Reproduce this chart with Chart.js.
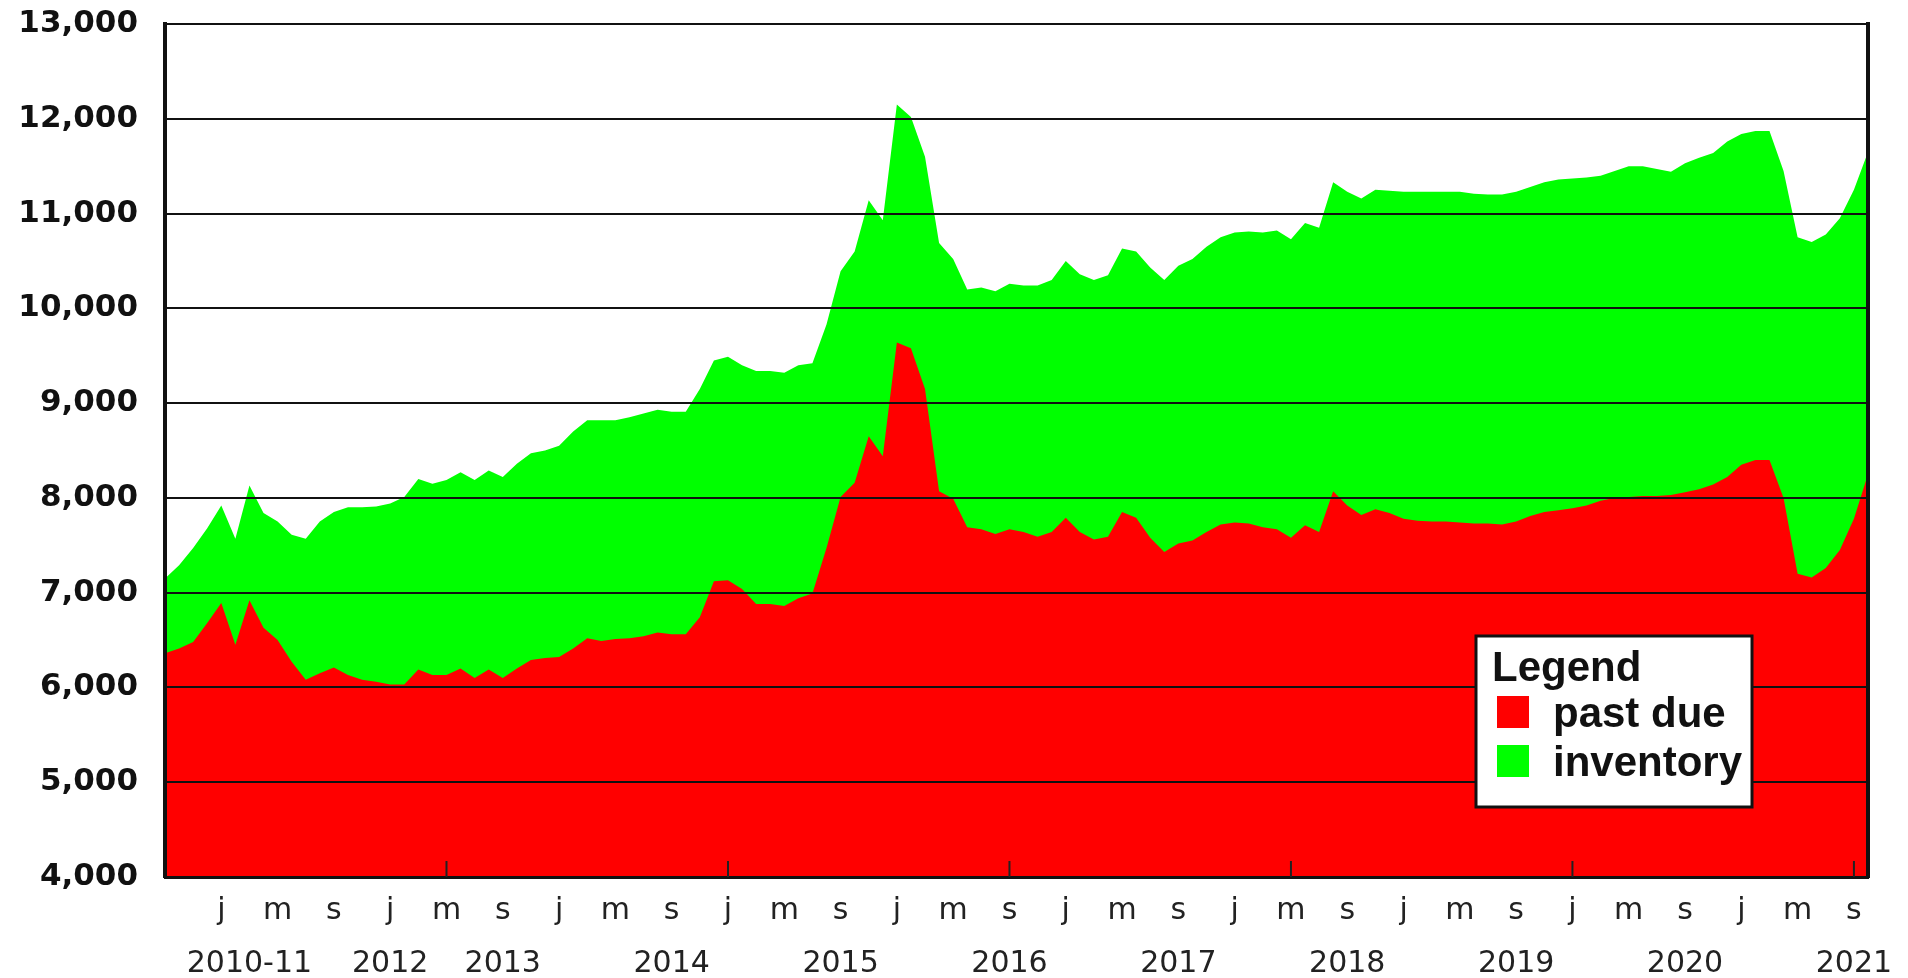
<!DOCTYPE html>
<html>
<head>
<meta charset="utf-8">
<title>Past due and inventory</title>
<script src="https://cdn.jsdelivr.net/npm/chart.js@4.4.1/dist/chart.umd.min.js"></script>
<style>
    html, body { margin: 0; padding: 0; background: #fff; }
    #wrap { position: relative; width: 1908px; height: 978px; }
</style>
</head>
<body>
<div id="wrap"><canvas id="dueChart"></canvas></div>
<script>
// monthly values, first point is September of the first year
const pastDue = [
    6360, 6410, 6480, 6680, 6890, 6450, 6920, 6630, 6500, 6270,
    6080, 6150, 6210, 6130, 6080, 6060, 6030, 6030, 6190, 6130,
    6130, 6200, 6100, 6190, 6100, 6200, 6290, 6310, 6320, 6410,
    6520, 6490, 6510, 6520, 6540, 6580, 6560, 6560, 6740, 7120,
    7130, 7040, 6880, 6880, 6860, 6940, 6990, 7470, 8010, 8160,
    8650, 8440, 9640, 9580, 9150, 8070, 7990, 7690, 7670, 7620,
    7670, 7640, 7590, 7640, 7790, 7640, 7560, 7590, 7850, 7790,
    7580, 7430, 7520, 7550, 7640, 7720, 7740, 7730, 7690, 7670,
    7580, 7710, 7640, 8070, 7920, 7820, 7880, 7840, 7780, 7760,
    7750, 7750, 7740, 7730, 7730, 7720, 7750, 7810, 7850, 7870,
    7890, 7920, 7970, 8000, 8010, 8020, 8020, 8030, 8060, 8090,
    8140, 8220, 8350, 8400, 8400, 8000, 7200, 7160, 7260, 7450,
    7780, 8250
];

const inventory = [
    7150, 7290, 7470, 7680, 7920, 7570, 8130, 7840, 7750, 7610,
    7570, 7750, 7850, 7900, 7900, 7910, 7940, 8010, 8200, 8150,
    8190, 8270, 8190, 8290, 8220, 8360, 8470, 8500, 8550, 8700,
    8820, 8820, 8820, 8850, 8890, 8930, 8910, 8910, 9150, 9450,
    9490, 9400, 9340, 9340, 9320, 9400, 9420, 9830, 10390, 10600,
    11140, 10930, 12150, 12020, 11600, 10690, 10520, 10200, 10220, 10180,
    10260, 10240, 10240, 10300, 10500, 10360, 10300, 10350, 10630, 10600,
    10430, 10300, 10450, 10520, 10650, 10750, 10800, 10810, 10800, 10820,
    10730, 10900, 10850, 11330, 11230, 11160, 11250, 11240, 11230, 11230,
    11230, 11230, 11230, 11210, 11200, 11200, 11230, 11280, 11330, 11360,
    11370, 11380, 11400, 11450, 11500, 11500, 11470, 11440, 11530, 11590,
    11640, 11760, 11840, 11870, 11870, 11450, 10750, 10700, 10780, 10950,
    11250, 11650
];

const months = pastDue.map((v, i) => i);   // category index per month
const firstMonth = 8;                        // september
const monthLetters = ["j", "", "", "", "m", "", "", "", "s", "", "", ""];
const yearLabels = ["2010-11", "2012", "2013", "2014", "2015", "2016", "2017", "2018", "2019", "2020", "2021"];
const yearAt = [6, 16, 24, 36, 48, 60, 72, 84, 96, 108, 120];
const innerTickAt = [20, 40, 60, 80, 100, 120];
const seriesNames = ["past due", "inventory"];
const seriesColors = ["#ff0000", "#00ff00"];

// small tick marks standing up from the bottom axis
const innerTicks = {
    id: "innerTicks",
    afterDraw(chart) {
        const { ctx, chartArea, scales } = chart;
        ctx.save();
        ctx.strokeStyle = "#222";
        ctx.lineWidth = 2;
        innerTickAt.forEach(i => {
            const x = scales.x.getPixelForValue(i);
            ctx.beginPath();
            ctx.moveTo(x, chartArea.bottom);
            ctx.lineTo(x, chartArea.bottom - 16);
            ctx.stroke();
        });
        ctx.restore();
    }
};

// boxed legend drawn over the plot, above the grid lines
const boxLegend = {
    id: "boxLegend",
    afterDraw(chart) {
        const { ctx, chartArea } = chart;
        const w = 276, h = 171;
        const left = chartArea.right - 116 - w;
        const top = chartArea.bottom - 70 - h;
        ctx.save();
        ctx.fillStyle = "#fff";
        ctx.fillRect(left, top, w, h);
        ctx.strokeStyle = "#111";
        ctx.lineWidth = 3;
        ctx.strokeRect(left, top, w, h);
        ctx.fillStyle = "#111";
        ctx.font = "bold 42px 'Liberation Sans', Arial, sans-serif";
        ctx.textBaseline = "alphabetic";
        ctx.fillText("Legend", left + 16, top + 45);
        chart.data.datasets.forEach((ds, i) => {
            const base = top + 91 + i * 49;
            ctx.fillStyle = ds.backgroundColor;
            ctx.fillRect(left + 21, base - 31, 32, 32);
            ctx.fillStyle = "#111";
            ctx.fillText(ds.label, left + 77, base);
        });
        ctx.restore();
    }
};

const ctx = document.getElementById("dueChart").getContext("2d");

new Chart(ctx, {
    type: "line",
    data: {
        labels: months,
        datasets: [
            {
                label: seriesNames[0],
                data: pastDue,
                backgroundColor: seriesColors[0],
                borderColor: seriesColors[0],
                borderWidth: 0,
                pointRadius: 0,
                tension: 0,
                fill: "start"
            },
            {
                label: seriesNames[1],
                data: inventory,
                backgroundColor: seriesColors[1],
                borderColor: seriesColors[1],
                borderWidth: 0,
                pointRadius: 0,
                tension: 0,
                fill: "start"
            }
        ]
    },
    options: {
        responsive: true,
        maintainAspectRatio: false,
        animation: false,
        layout: { padding: { top: 24, right: 40, left: 0, bottom: 0 } },
        plugins: {
            legend: { display: false },
            tooltip: { enabled: false }
        },
        scales: {
            x: {
                type: "category",
                z: 1,
                grid: { display: false, drawTicks: false },
                border: { display: true, color: "#111", width: 3, z: 1 },
                ticks: {
                    autoSkip: false,
                    maxRotation: 0,
                    minRotation: 0,
                    padding: 8,
                    color: "#222",
                    font: { family: "'DejaVu Sans', Verdana, sans-serif", size: 30, lineHeight: 1.75 },
                    callback: function (value, index) {
                        const letter = index > 0 ? monthLetters[(firstMonth + index) % 12] : "";
                        const y = yearAt.indexOf(index);
                        if (y >= 0) return [letter, yearLabels[y]];
                        return letter;
                    }
                },
                afterFit(scale) { scale.height = 101; }
            },
            y: {
                min: 4000,
                max: 13000,
                z: 1,
                grid: { color: "#111", lineWidth: 2, drawTicks: false, z: 1 },
                border: { display: true, color: "#111", width: 4, z: 1 },
                ticks: {
                    stepSize: 1000,
                    padding: 27,
                    color: "#111",
                    font: { family: "'DejaVu Sans', Verdana, sans-serif", weight: "bold", size: 31 },
                    callback: v => v.toLocaleString("en-US")
                },
                afterFit(scale) {
                    scale.width = 165;
                    // labels may hang over the top edge, like in the original
                    scale.paddingTop = 0;
                    scale.paddingBottom = 0;
                }
            },
            y2: {
                position: "right",
                z: 1,
                grid: { display: false, drawTicks: false },
                border: { display: true, color: "#111", width: 4, z: 1 },
                ticks: { display: false },
                afterFit(scale) { scale.width = 0; }
            }
        }
    },
    plugins: [innerTicks, boxLegend]
});
</script>
</body>
</html>
